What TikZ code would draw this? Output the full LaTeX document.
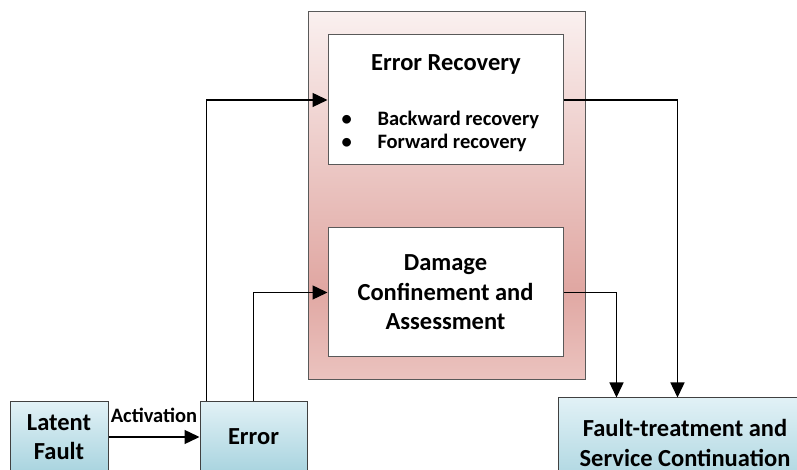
\documentclass[tikz,border=0pt]{standalone}
\usepackage{fontspec}
\setmainfont{Carlito}
\usetikzlibrary{arrows.meta,positioning}
\definecolor{bluetop}{HTML}{E1F1F6}
\definecolor{bluebot}{HTML}{A9D4DF}
\definecolor{pinktop}{HTML}{FAF0EF}
\definecolor{pinkmid}{HTML}{E0A7A2}
\definecolor{pinkbot}{HTML}{EBC3BF}
\definecolor{edgecolor}{HTML}{595959}
\pgfdeclareverticalshading{pinkshade}{100bp}{color(0bp)=(pinkbot); color(25bp)=(pinkbot); color(37.5bp)=(pinkmid); color(75bp)=(pinktop); color(100bp)=(pinktop)}

\begin{document}
\begin{tikzpicture}[
    x=1pt, y=1pt,
    >={Triangle[length=15pt,width=14pt]},
    every node/.style={font=\bfseries\fontsize{24.5}{29.5}\selectfont, align=center},
    bluebox/.style={rectangle, draw=black!75, line width=1pt,
                    top color=bluetop, bottom color=bluebot, inner sep=0pt},
    panel/.style={rectangle, draw=edgecolor, line width=1pt,
                  shade, shading=pinkshade, inner sep=0pt},
    whitebox/.style={rectangle, draw=edgecolor, line width=1pt,
                     fill=white, inner sep=0pt},
    smalltext/.style={font=\bfseries\fontsize{20.5}{24}\selectfont},
    link/.style={->, line width=1.4pt}
]
\useasboundingbox (0,0) rectangle (797,470);
\clip (0,0) rectangle (797,470);
\fill[white] (0,0) rectangle (797,470);

\node[panel, minimum width=277pt, minimum height=368pt] (panel) at (446.5,274) {};
\node[whitebox, minimum width=235pt, minimum height=130pt] (rec) at (445.5,370) {};
\node[anchor=base] (rectitle) at (446,399.3) {Error Recovery};
\node[smalltext, anchor=base west] (backrec) at (338,344) {\makebox[36pt][l]{\textbullet}Backward recovery};
\node[smalltext, anchor=base west] (fwdrec) at (338,321) {\makebox[36pt][l]{\textbullet}Forward recovery};
\node[whitebox, minimum width=235pt, minimum height=129pt] (dam) at (445.5,177.5) {Damage\\Confinement and\\Assessment};

\node[bluebox, minimum width=98pt, minimum height=70pt] (latent) at (59,33) {Latent\\Fault};
\node[bluebox, minimum width=107pt, minimum height=70pt] (error) at (253.5,33) {Error};
\node[bluebox, minimum width=254pt, minimum height=90pt] (ft) at (685,27) {Fault-treatment and\\Service Continuation};

\draw[link] (latent) -- node[smalltext, above=10pt] (act) {Activation} (error);
\draw[link] ([xshift=7pt]error.north west) |- (rec.west);
\draw[link] (error.north) |- (dam.west);
\draw[link] (rec.east) -| ([xshift=120pt]ft.north west);
\draw[link] (dam.east) -| ([xshift=59pt]ft.north west);
\end{tikzpicture}
\end{document}
